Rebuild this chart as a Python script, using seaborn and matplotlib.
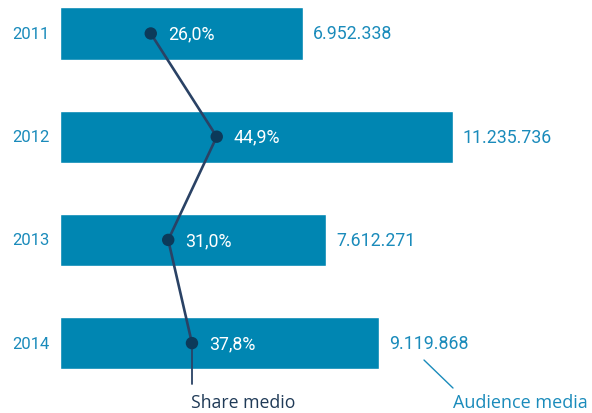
import matplotlib
matplotlib.use("Agg")
import matplotlib.pyplot as plt
import seaborn as sns
import pandas as pd

years = ["2011", "2012", "2013", "2014"]
audience = [6952338, 11235736, 7612271, 9119868]
share = [26.0, 44.9, 31.0, 37.8]
audience_labels = ["6.952.338", "11.235.736", "7.612.271", "9.119.868"]
share_labels = ["26,0%", "44,9%", "31,0%", "37,8%"]

BAR = "#0086b2"
TXT = "#1a8bbb"
LINE = "#2a4265"
DOT = "#0c3a5a"

sns.set_theme(style="white")
plt.rcParams["font.family"] = ["Roboto", "DejaVu Sans"]

df = pd.DataFrame({"year": years, "audience": audience, "share": share})
df["pos"] = range(len(df))

fig = plt.figure(figsize=(5.92, 4.14), dpi=100)
ax = fig.add_axes([60 / 592, 0, 532 / 592, 1])

sns.barplot(data=df, x="audience", y="year", orient="h", color=BAR,
            width=0.505, saturation=1, ax=ax)
aud_max = 15.22e6
ax.set_xlim(0, aud_max)
ax.set_ylim(3.677, -0.334)
ax.set_axis_off()

for i, (v, lab) in enumerate(zip(audience, audience_labels)):
    ax.text(v + 0.29e6, i, lab, color=TXT, fontsize=12.8, va="center", ha="left")
    ax.text(-0.29e6, i, years[i], color=TXT, fontsize=12, va="center", ha="right",
            clip_on=False)

# share line on a twin axis with its own percentage scale
ax2 = ax.twiny()
ax2.set_xlim(0, 152.4)
ax2.set_ylim(3.677, -0.334)
ax2.set_axis_off()
sns.lineplot(data=df, x="share", y="pos", sort=False, orient="y",
             color=LINE, linewidth=1.9, ax=ax2)
ax2.plot([share[-1], share[-1]], [3, 3.396], color=LINE, linewidth=1.3)
sns.scatterplot(data=df, x="share", y="pos", color=DOT, s=80,
                edgecolor="none", zorder=5, ax=ax2)
for i, (s, lab) in enumerate(zip(share, share_labels)):
    ax2.text(s + 4.9, i, lab, color="white", fontsize=12.8, va="center", ha="left")

legend_font = ["Open Sans", "DejaVu Sans"]
ax2.text(share[-1] - 0.4, 3.575, "Share medio", color="#1f3a57", fontsize=12.7,
         va="center", ha="left", family=legend_font)

# leader for the audience legend
x0 = (424 - 60) / 532 * aud_max
x1 = (453 - 60) / 532 * aud_max
ax.plot([x0, x1], [(361 - 34.5) / 103.2, (389 - 34.5) / 103.2], color=TXT, linewidth=1)
ax.text(x1, 3.575, "Audience media", color=TXT, fontsize=13,
        va="center", ha="left", family=legend_font)

fig.savefig("out.png", dpi=100)
